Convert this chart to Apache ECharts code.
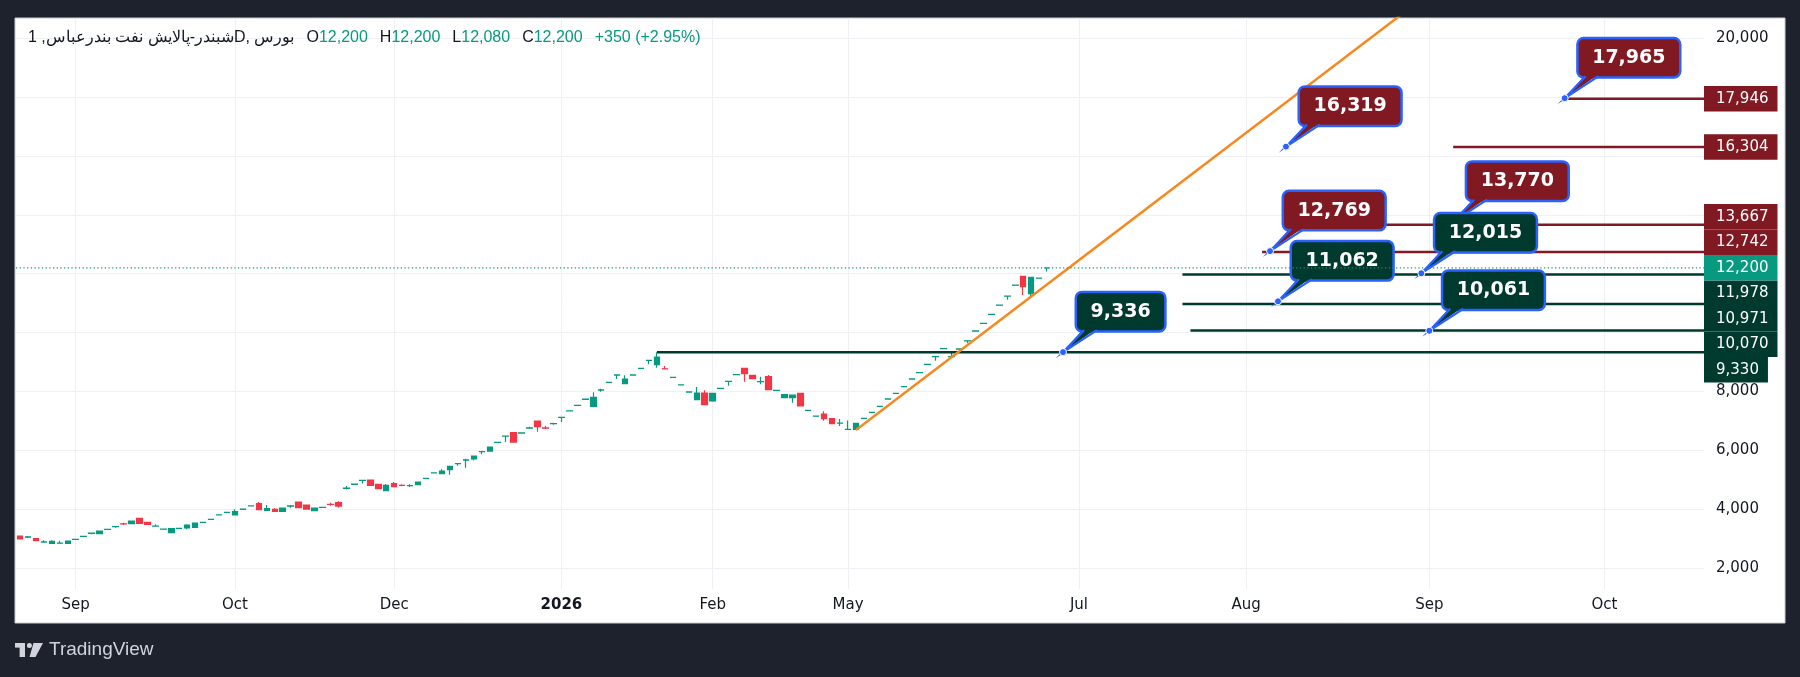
<!DOCTYPE html>
<html>
<head>
<meta charset="utf-8">
<title>شبندر</title>
<script src="https://cdn.jsdelivr.net/npm/echarts@6.0.0/dist/echarts.min.js"></script>
<style>
html, body { margin: 0; padding: 0; background: #1e222d; }
#chart { width: 1800px; height: 677px; }
</style>
</head>
<body>
<div id="chart"></div>
<script>

// daily candles, index 0 = first bar on the left
var openData = [3088,3045,2997,2880,2838,2845,2838,2970,3076,3178,3167,3314,3405,3503,3507,3688,3552,3425,3320,3201,
  3344,3360,3382,3552,3654,3801,3892,3801,3994,4107,4187,3960,3994,3926,4105,4242,4140,3947,4061,4165,
  4219,4707,4843,4975,4990,4843,4627,4865,4812,4795,4831,5046,5228,5205,5341,5545,5669,5704,5952,5975,
  6270,6484,6599,6586,6757,6995,6761,6902,7118,7335,7527,7732,7493,8048,8309,8558,8264,8558,8785,9056,
  8910,8770,8479,8219,7980,7720,7947,7675,8105,8343,8570,8785,8547,8331,8502,8037,7788,7788,7935,7357,
  7160,7233,7074,6925,6711,6712,7085,7289,7493,7742,7935,8162,8422,8637,8920,9180,9453,9181,9441,9718,
  10053,10310,10620,10930,11240,11610,11910,11320,11846,12200];
var closeData = [2986,3055,2929,2885,2906,2850,2918,2975,3080,3183,3258,3318,3410,3495,3598,3518,3484,3428,3326,3337,
  3348,3462,3530,3556,3658,3805,3895,3915,3998,4111,3983,4017,3926,4040,4110,4049,4004,4038,4065,4158,
  4106,4712,4848,4979,4808,4695,4808,4763,4808,4797,4922,5050,5232,5296,5454,5550,5673,5806,5953,6112,
  6274,6485,6281,6590,6760,6803,6757,6905,7120,7339,7531,7736,7799,8051,8313,8560,8422,8562,8789,9058,
  9170,8762,8483,8223,7984,7947,7550,7935,8108,8345,8574,8604,8434,8335,8060,8041,7890,7878,7505,7361,
  7165,7074,6904,6927,6713,6915,7088,7293,7497,7746,7939,8166,8426,8641,8924,9182,9457,9184,9445,9720,
  10057,10314,10624,10934,11243,11614,11560,11880,11850,12200];
var lowData = [2986,3020,2920,2878,2835,2843,2836,2968,3074,3145,3150,3312,3371,3462,3505,3515,3480,3424,3318,3199,
  3342,3315,3380,3550,3652,3799,3858,3799,3992,4105,3980,3958,3922,3924,4050,4045,4000,3945,4059,4117,
  4060,4672,4841,4876,4805,4692,4624,4760,4775,4752,4829,5044,5226,5203,5171,5477,5409,5658,5862,5973,
  6268,6281,6259,6584,6735,6633,6723,6870,6961,7333,7525,7730,7490,7992,8307,8422,8262,8556,8783,8921,
  8808,8751,8477,8217,7978,7718,7548,7652,8103,8196,8568,8332,8430,8241,8057,8035,7770,7618,7502,7355,
  7158,7006,6902,6825,6710,6689,7083,7287,7491,7740,7933,8160,8420,8635,8918,9045,9451,9179,9439,9650,
  10051,10308,10618,10928,11115,11608,11280,11220,11844,12080];
var highData = [3088,3088,3010,2940,2940,2929,2920,2978,3082,3201,3265,3320,3428,3541,3600,3700,3575,3484,3328,3340,
  3350,3485,3532,3558,3660,3807,3915,3994,4000,4113,4243,4141,4040,4042,4140,4260,4145,4040,4067,4219,
  4270,4786,4850,4981,4995,4846,4855,4922,4843,4843,4924,5052,5234,5352,5456,5568,5715,5808,5975,6114,
  6276,6486,6621,6592,6803,7000,6836,6938,7121,7341,7533,7738,7969,8094,8315,8561,8547,8564,8791,9059,
  9330,8864,8485,8225,7986,8150,8037,7937,8110,8346,8576,8790,8550,8502,8558,8043,7892,7880,7938,7363,
  7167,7323,7077,7063,7017,6917,7090,7295,7499,7748,7941,8168,8428,8643,8926,9183,9459,9316,9447,9721,
  10059,10316,10626,10936,11244,11616,11912,11882,11852,12200];

// time axis labels (bar index -> name)
var xLabelIdx = [7, 27, 47, 68, 87, 104, 133, 154, 177, 199];
var xLabelNames = ['Sep', 'Oct', 'Dec', '2026', 'Feb', 'May', 'Jul', 'Aug', 'Sep', 'Oct'];

// price scale
var yTickLabels = [2000, 4000, 6000, 8000, 20000];
var yGridValues = [2000, 4000, 6000, 8000, 10000, 12000, 14000, 16000, 18000, 20000];

// horizontal levels drawn to the price scale: r = resistance, s = support
var levelValues = [17946, 16304, 13667, 12742, 11978, 10971, 10070, 9330];
var levelStart = [194, 180, 160, 156, 146, 146, 147, 80];
var levelSide = ['r', 'r', 'r', 'r', 's', 's', 's', 's'];

// callout notes: anchor bar and price
var calloutValues = [17965, 16319, 13770, 12769, 12015, 11062, 10061, 9336];
var calloutIdx = [194, 159, 180, 157, 176, 158, 177, 131];
var calloutSide = ['r', 'r', 'r', 'r', 's', 's', 's', 's'];

// trend line through two points
var trendIdx = [105, 180];
var trendValues = [6689, 22150];

var ticker = 'شبندر-پالایش نفت بندرعباس, 1D, بورس';


var UP = '#089981', DOWN = '#f23645';
var RES = '#801922', SUP = '#00392d';
var BLUE = '#2962ff', ORANGE = '#f5891f';
var INK = '#131722', LOGO = '#d1d4dc';
var LABEL_H = 25.5;

function fmt(v) {
  return String(Math.round(v)).replace(/\B(?=(\d{3})+(?!\d))/g, ',');
}

var n = closeData.length;
var lastClose = closeData[n - 1];
var chg = lastClose - closeData[n - 2];
var pct = chg / closeData[n - 2] * 100;
var sign = chg >= 0 ? '+' : '-';
var chgText = sign + fmt(Math.abs(chg)) + ' (' + sign + Math.abs(pct).toFixed(2) + '%)';

var candleData = openData.map(function (o, i) {
  return [i, o, closeData[i], lowData[i], highData[i]];
});

var labelValues = levelValues.concat([lastClose]);
var labelColors = levelSide.map(function (s) { return s == 'r' ? RES : SUP; }).concat([UP]);

var header = '{t|' + ticker + '}{g| }'
  + '{k|O}{v|' + fmt(openData[n - 1]) + '}{g| }'
  + '{k|H}{v|' + fmt(highData[n - 1]) + '}{g| }'
  + '{k|L}{v|' + fmt(lowData[n - 1]) + '}{g| }'
  + '{k|C}{v|' + fmt(lastClose) + '}{g| }'
  + '{v|' + chgText + '}';

function renderLevel(params, api) {
  var p = api.coord([api.value(0), api.value(1)]);
  var right = params.coordSys.x + params.coordSys.width;
  return {
    type: 'line',
    shape: { x1: p[0], y1: p[1], x2: right, y2: p[1] },
    style: { stroke: levelSide[params.dataIndex] == 'r' ? RES : SUP, lineWidth: 2.5 }
  };
}

function renderCallout(params, api) {
  var i = params.dataIndex;
  var p = api.coord([api.value(0), api.value(1)]);
  var fill = calloutSide[i] == 'r' ? RES : SUP;
  var bx = p[0] + 14, by = p[1] - 22;
  var z = i * 10;
  return {
    type: 'group',
    children: [
      {
        type: 'text', x: bx, y: by, z2: z + 1,
        style: {
          text: fmt(api.value(1)), fill: '#ffffff', font: 'bold 19px "DejaVu Sans"',
          backgroundColor: fill, borderColor: BLUE, borderWidth: 2.5, borderRadius: 5,
          padding: [8, 13.5, 8, 13.5], lineHeight: 21, align: 'left', verticalAlign: 'bottom'
        }
      },
      {
        type: 'polygon', z2: z + 2,
        shape: { points: [[p[0], p[1]], [bx + 7, by - 2], [bx + 20, by - 2]] },
        style: { fill: fill }
      },
      {
        type: 'polyline', z2: z + 3,
        shape: { points: [[bx + 7, by], [p[0], p[1]], [bx + 20, by]] },
        style: { stroke: BLUE, lineWidth: 2.2, fill: null }
      },
      {
        type: 'circle', z2: z + 4,
        shape: { cx: p[0], cy: p[1], r: 3.5 },
        style: { fill: BLUE, stroke: '#ffffff', lineWidth: 1 }
      }
    ]
  };
}

// price scale tags, pushed apart around the current price tag
function renderPriceTag(params, api) {
  var ys = labelValues.map(function (v) { return api.coord([0, v])[1]; });
  var cur = ys.length - 1;
  var pos = ys.slice();
  var others = [];
  for (var k = 0; k < cur; k++) others.push(k);
  var above = others.filter(function (k) { return ys[k] < ys[cur]; }).sort(function (a, b) { return ys[b] - ys[a]; });
  var below = others.filter(function (k) { return ys[k] >= ys[cur]; }).sort(function (a, b) { return ys[a] - ys[b]; });
  var prev = ys[cur];
  above.forEach(function (k) { pos[k] = Math.min(ys[k], prev - LABEL_H); prev = pos[k]; });
  prev = ys[cur];
  below.forEach(function (k) { pos[k] = Math.max(ys[k], prev + LABEL_H); prev = pos[k]; });

  var i = params.dataIndex;
  var right = params.coordSys.x + params.coordSys.width;
  return {
    type: 'text', x: right, y: pos[i], z2: i == cur ? 100 : i,
    style: {
      text: fmt(labelValues[i]), fill: '#ffffff', font: '15px "DejaVu Sans"',
      backgroundColor: labelColors[i], padding: [5, 9, 4.5, 12], lineHeight: 16,
      align: 'left', verticalAlign: 'middle'
    }
  };
}

var chart = echarts.init(document.getElementById('chart'), null, { renderer: 'canvas' });

chart.setOption({
  animation: false,
  backgroundColor: '#1e222d',
  textStyle: { fontFamily: 'DejaVu Sans' },
  grid: { left: 16, right: 96, top: 18, bottom: 88 },
  xAxis: {
    type: 'value',
    min: -0.5,
    max: 211.5,
    axisLine: { show: false },
    axisTick: { show: false, customValues: xLabelIdx },
    splitLine: { show: true, lineStyle: { color: '#eef0f4', width: 1 } },
    axisLabel: {
      customValues: xLabelIdx,
      margin: 9,
      color: INK,
      fontSize: 15,
      fontFamily: 'DejaVu Sans',
      formatter: function (v) {
        var name = xLabelNames[xLabelIdx.indexOf(v)];
        return name == '2026' ? '{b|' + name + '}' : name;
      },
      rich: { b: { fontWeight: 'bold', fontSize: 15, fontFamily: 'DejaVu Sans', color: INK } }
    }
  },
  yAxis: {
    type: 'value',
    position: 'right',
    min: 1287,
    max: 20690,
    axisLine: { show: false },
    axisTick: { show: false, customValues: yGridValues },
    splitLine: { show: true, lineStyle: { color: '#eef0f4', width: 1 } },
    axisLabel: {
      customValues: yTickLabels,
      margin: 12,
      color: INK,
      fontSize: 15,
      fontFamily: 'DejaVu Sans',
      formatter: function (v) { return fmt(v); }
    }
  },
  series: [
    {
      type: 'candlestick',
      data: candleData,
      encode: { x: 0, y: [1, 2, 3, 4] },
      barWidth: 6,
      z: 2,
      silent: true,
      itemStyle: { color: UP, color0: DOWN, borderColor: UP, borderColor0: DOWN, borderWidth: 1.2 }
    },
    {
      type: 'custom',
      z: 3,
      silent: true,
      data: levelValues.map(function (v, i) { return [levelStart[i], v]; }),
      encode: { x: 0, y: 1 },
      renderItem: renderLevel
    },
    {
      type: 'line',
      z: 4,
      silent: true,
      showSymbol: false,
      clip: true,
      data: trendIdx.map(function (x, i) { return [x, trendValues[i]]; }),
      lineStyle: { color: ORANGE, width: 2.5 }
    },
    {
      type: 'custom',
      z: 6,
      silent: true,
      data: calloutValues.map(function (v, i) { return [calloutIdx[i], v]; }),
      encode: { x: 0, y: 1 },
      renderItem: renderCallout
    },
    {
      // current price line
      type: 'line',
      z: 7,
      silent: true,
      showSymbol: false,
      data: [[-0.5, lastClose], [211.5, lastClose]],
      lineStyle: { color: UP, width: 1.2, type: [1.2, 2.5] }
    },
    {
      type: 'custom',
      z: 8,
      silent: true,
      data: labelValues.map(function (v) { return [0, v]; }),
      encode: { x: 0, y: 1 },
      renderItem: renderPriceTag
    }
  ],
  graphic: [
    {
      type: 'rect', z: -10, silent: true,
      shape: { x: 15, y: 18, width: 1770, height: 605 },
      style: { fill: '#ffffff', stroke: '#c8cbd3', lineWidth: 1 }
    },
    {
      type: 'text', x: 28, y: 38, z: 10, silent: true,
      style: {
        text: header,
        verticalAlign: 'middle',
        rich: {
          t: { fill: INK, fontSize: 16, fontWeight: 500, fontFamily: 'Liberation Sans' },
          k: { fill: INK, fontSize: 16, fontFamily: 'Liberation Sans' },
          v: { fill: UP, fontSize: 16, fontFamily: 'Liberation Sans' },
          g: { width: 12, fontSize: 16 }
        }
      }
    },
    {
      type: 'group', x: 15, y: 643, z: 10, silent: true,
      children: [
        { type: 'rect', shape: { x: 0, y: 0, width: 10, height: 4.6 }, style: { fill: LOGO } },
        { type: 'rect', shape: { x: 4.6, y: 0, width: 5.4, height: 14 }, style: { fill: LOGO } },
        { type: 'circle', shape: { cx: 14.4, cy: 2.5, r: 2.5 }, style: { fill: LOGO } },
        { type: 'polygon', shape: { points: [[18.5, 0], [28, 0], [20.5, 14], [14.5, 14]] }, style: { fill: LOGO } },
        {
          type: 'text', x: 34, y: 7,
          style: { text: 'TradingView', fill: LOGO, font: '19px "Liberation Sans"', verticalAlign: 'middle' }
        }
      ]
    }
  ]
});

</script>
</body>
</html>
